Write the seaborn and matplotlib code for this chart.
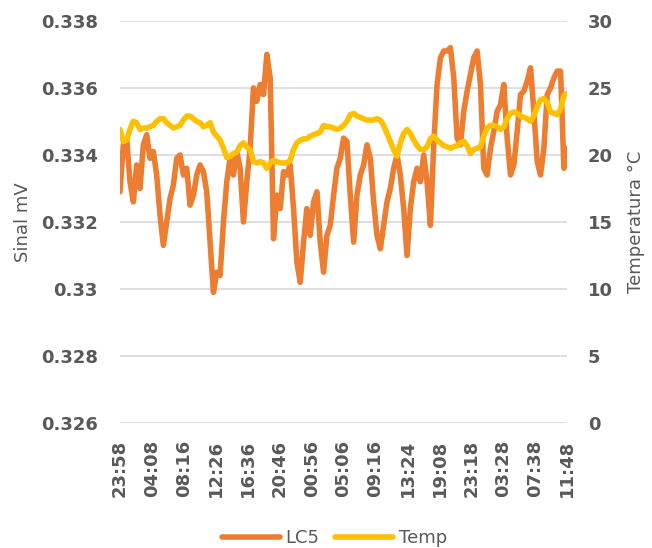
import numpy as np
import pandas as pd
import matplotlib
matplotlib.use("Agg")
import matplotlib.pyplot as plt
from matplotlib.ticker import FuncFormatter
import seaborn as sns

# ==========================================
# data
# ==========================================
lc5 = [
    0.3329, 0.3343, 0.3345, 0.3332, 0.3326, 0.3337, 0.3330, 0.3343, 0.3346, 0.3339,
    0.3341, 0.3334, 0.3322, 0.3313, 0.3320, 0.3327, 0.3331, 0.3339, 0.3340, 0.3334,
    0.3336, 0.3325, 0.3328, 0.3334, 0.3337, 0.3335, 0.3329, 0.3314, 0.3299, 0.3305,
    0.3304, 0.3320, 0.3332, 0.3339, 0.3334, 0.3341, 0.3336, 0.3320, 0.3332, 0.3342,
    0.3360, 0.3356, 0.3361, 0.3358, 0.3370, 0.3363,
    0.3315, 0.3328, 0.3324, 0.3335, 0.3334, 0.3337, 0.3324, 0.3308, 0.3302, 0.3314,
    0.3324, 0.3316, 0.3326, 0.3329, 0.3314, 0.3305, 0.3316, 0.3319, 0.3328, 0.3336,
    0.3339, 0.3345, 0.3344, 0.3328, 0.3314, 0.3328, 0.3334, 0.3337, 0.3343, 0.3339,
    0.3326, 0.3316, 0.3312, 0.3319, 0.3326, 0.3330, 0.3336, 0.3340, 0.3334, 0.3324,
    0.3310, 0.3324, 0.3332, 0.3336, 0.3332, 0.3340, 0.3332, 0.3319,
    0.3343, 0.3361, 0.3369, 0.3371, 0.3371, 0.3372, 0.3363, 0.3345, 0.3343, 0.3353,
    0.3359, 0.3364, 0.3369, 0.3371, 0.3361, 0.3336, 0.3334, 0.3342, 0.3347, 0.3353,
    0.3355, 0.3361, 0.3345, 0.3334, 0.3337, 0.3347, 0.3358, 0.3359, 0.3362, 0.3366,
    0.3353, 0.3338, 0.3334, 0.3342, 0.3358, 0.3360, 0.3363, 0.3365, 0.3365, 0.3336,
    0.3342,
]
temp = [
    21.9, 21.0, 21.1, 21.9, 22.5, 22.4, 21.9, 22.0, 22.0, 22.1,
    22.2, 22.5, 22.7, 22.7, 22.4, 22.2, 22.0, 22.1, 22.2, 22.6,
    22.9, 22.9, 22.7, 22.5, 22.4, 22.1, 22.2, 22.4, 21.7, 21.4,
    21.1, 20.5, 19.8, 19.9, 20.1, 20.2, 20.7, 20.9, 20.6, 20.4,
    19.5, 19.4, 19.5, 19.4, 19.0, 19.4,
    19.6, 19.5, 19.4, 19.4, 19.4, 19.6, 20.4, 20.9, 21.1, 21.2,
    21.2, 21.4, 21.5, 21.6, 21.7, 22.2, 22.1, 22.1, 22.0, 21.9,
    22.0, 22.2, 22.5, 23.0, 23.1, 22.9, 22.8, 22.7, 22.6, 22.6,
    22.6, 22.7, 22.6, 22.2, 21.6, 21.0, 20.4, 19.9, 20.9, 21.6,
    21.9, 21.6, 21.1, 20.7, 20.4, 20.4, 20.6, 21.2,
    21.4, 21.1, 20.9, 20.7, 20.6, 20.5, 20.6, 20.7, 20.9, 21.0,
    20.7, 20.1, 20.4, 20.5, 20.6, 21.4, 22.0, 22.2, 22.2, 22.1,
    21.9, 22.1, 22.7, 23.1, 23.2, 23.1, 22.9, 22.8, 22.7, 22.5,
    22.9, 23.6, 24.1, 24.2, 23.9, 23.2, 23.1, 23.0, 23.4, 24.4,
    24.6,
]
tick_labels = ["23:58", "04:08", "08:16", "12:26", "16:36", "20:46", "00:56",
               "05:06", "09:16", "13:24", "19:08", "23:18", "03:28", "07:38",
               "11:48"]

df = pd.DataFrame({"idx": np.arange(len(lc5)), "LC5": lc5, "Temp": temp})

# ==========================================
# style
# ==========================================
sns.set_style("white")
plt.rcParams['font.family'] = ['DejaVu Sans']
GREY = '#595959'
ORANGE = '#ED7D31'
YELLOW = '#FFC000'

fig = plt.figure(figsize=(6.52, 5.48), dpi=100)
ax = fig.add_axes([0.184, 0.228, 0.686, 0.734])
ax2 = ax.twinx()

sns.lineplot(data=df, x="idx", y="LC5", ax=ax, color=ORANGE,
             linewidth=4.0, label="LC5", legend=False)
sns.lineplot(data=df, x="idx", y="Temp", ax=ax2, color=YELLOW,
             linewidth=4.0, label="Temp", legend=False)

n = len(df)
ax.set_xlim(0, n - 1)
ax.set_ylim(0.326, 0.338)
ax.set_yticks(np.arange(0.326, 0.3381, 0.002))
ax.yaxis.set_major_formatter(FuncFormatter(lambda v, p: f"{round(v, 3):g}"))
ax2.set_ylim(0, 30)
ax2.set_yticks(np.arange(0, 31, 5))

ax.set_xticks(np.linspace(0, n - 1, len(tick_labels)))
ax.set_xticklabels(tick_labels, rotation=90)

ax.grid(axis='y', color='#D9D9D9', linewidth=1.2)
ax.set_axisbelow(True)
for a in (ax, ax2):
    for s in a.spines.values():
        s.set_visible(False)
    a.tick_params(length=0, colors=GREY, labelsize=13)
    for lab in a.get_xticklabels() + a.get_yticklabels():
        lab.set_fontweight('bold')

ax.tick_params(axis='y', pad=16)
ax.tick_params(axis='x', pad=12)
ax2.tick_params(axis='y', pad=15)

ax.set_xlabel("")
ax.set_ylabel("Sinal mV", color=GREY, fontsize=13, labelpad=6)
ax2.set_ylabel("Temperatura °C", color=GREY, fontsize=13, labelpad=10)

h1, l1 = ax.get_legend_handles_labels()
h2, l2 = ax2.get_legend_handles_labels()
leg = fig.legend(h1 + h2, l1 + l2, loc='center', bbox_to_anchor=(0.513, 0.018),
                 ncol=2, frameon=False, fontsize=13, handlelength=3.2,
                 columnspacing=0.9, handletextpad=0.3)
for t in leg.get_texts():
    t.set_color(GREY)

fig.savefig("out.png", dpi=100)
